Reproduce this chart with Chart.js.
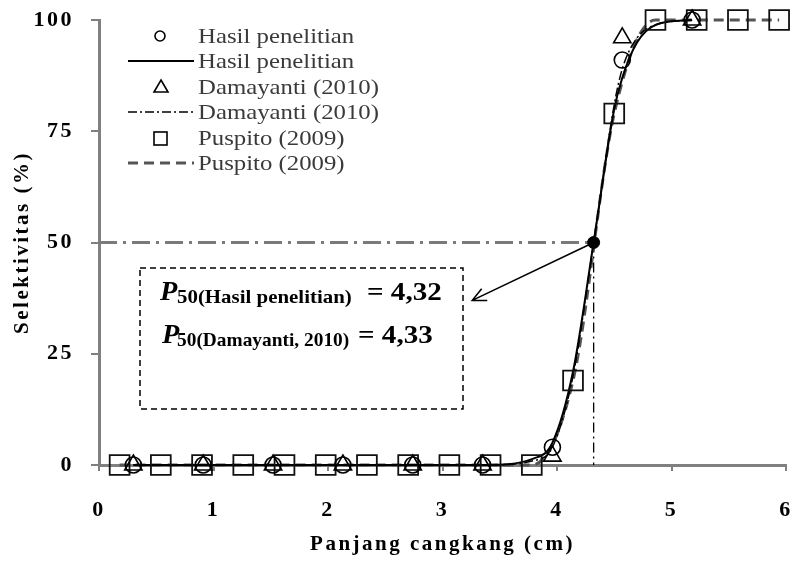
<!DOCTYPE html>
<html>
<head>
<meta charset="utf-8">
<script src="https://cdn.jsdelivr.net/npm/chart.js@4.4.1/dist/chart.umd.min.js"></script>
<style>
  html, body { margin: 0; padding: 0; background: #fff; }
  canvas { display: block; }
</style>
</head>
<body>
<canvas id="chart" width="792" height="561"></canvas>
<script>
// observed points (shell length cm, selectivity %)
const hasilX = [0.30, 0.91, 1.52, 2.13, 2.74, 3.35, 3.96, 4.57, 5.18];
const hasilY = [0, 0, 0, 0, 0, 0, 4, 91, 100];
const damaX = [0.30, 0.91, 1.52, 2.13, 2.74, 3.35, 3.96, 4.57, 5.18];
const damaY = [0, 0, 0, 0, 0, 0, 2, 96, 100];
const puspX = [0.18, 0.54, 0.90, 1.26, 1.62, 1.98, 2.34, 2.70, 3.06, 3.42, 3.78, 4.14, 4.50, 4.86, 5.22, 5.58, 5.94];
const puspY = [0, 0, 0, 0, 0, 0, 0, 0, 0, 0, 0, 19, 79, 100, 100, 100, 100];

// fitted curves
const fitX = [0.30, 3.35, 3.80, 3.96, 4.14, 4.32, 4.50, 4.57, 4.70, 4.87, 5.18];
const hasilFitY = [0, 0, 1.5, 5, 21, 50, 80, 87, 95, 99, 100];
const damaFitY = [0, 0, 1, 4, 20, 50, 81, 89, 96, 99, 100];

// P50 marker and reference lines
const p50 = 4.32;
const p50Y = 50;
const arrowEnd = [3.26, 37];

const xTicks = [0, 1, 2, 3, 4, 5, 6];
const yTicks = [0, 25, 50, 75, 100];
const legendNames = ['Hasil penelitian', 'Hasil penelitian', 'Damayanti (2010)', 'Damayanti (2010)', 'Puspito (2009)', 'Puspito (2009)'];
const boxLines = [
  { sub: '50(Hasil penelitian)', val: '= 4,32' },
  { sub: '50(Damayanti, 2010)', val: '= 4,33' }
];

const SERIF = '"Liberation Serif", "Times New Roman", serif';
const AXIS_GREY = '#808080';

function pts(xs, ys) {
  return xs.map((x, i) => ({ x: x, y: ys[i] }));
}

// stretched text like the original figure
function wideText(ctx, text, x, y, sx) {
  ctx.save();
  ctx.translate(x, y);
  ctx.scale(sx, 1);
  ctx.fillText(text, 0, 0);
  ctx.restore();
}

const base = { showLine: false, clip: false, pointHoverRadius: 0 };

const datasets = [
  { ...base, label: 'hasil-pts', data: pts(hasilX, hasilY), pointStyle: 'circle', pointRadius: 8,
    pointBorderColor: '#000', pointBackgroundColor: 'rgba(0,0,0,0)', pointBorderWidth: 1.6, order: 1 },
  { ...base, label: 'dama-pts', data: pts(damaX, damaY), pointStyle: 'triangle', pointRadius: 10,
    pointBorderColor: '#000', pointBackgroundColor: 'rgba(0,0,0,0)', pointBorderWidth: 1.6, order: 2 },
  { ...base, label: 'pusp-pts', data: pts(puspX, puspY), pointStyle: 'rect', pointRadius: 14,
    pointBorderColor: '#111', pointBackgroundColor: 'rgba(0,0,0,0)', pointBorderWidth: 1.8, order: 3 },
  { ...base, label: 'hasil-fit', data: pts(fitX, hasilFitY), showLine: true, pointRadius: 0,
    borderColor: '#000', borderWidth: 2, cubicInterpolationMode: 'monotone', order: 4 },
  { ...base, label: 'dama-fit', data: pts(fitX, damaFitY), showLine: true, pointRadius: 0,
    borderColor: '#000', borderWidth: 1.5, borderDash: [9, 3, 2, 3], cubicInterpolationMode: 'monotone', order: 5 },
  { ...base, label: 'pusp-fit', data: pts(puspX, puspY), showLine: true, pointRadius: 0,
    borderColor: '#555', borderWidth: 3, borderDash: [10, 6], cubicInterpolationMode: 'monotone', order: 6 },
  { ...base, label: 'ref-h', data: pts([0, p50], [p50Y, p50Y]), showLine: true, pointRadius: 0,
    borderColor: '#7a7a7a', borderWidth: 3, borderDash: [18, 6, 3, 6], order: 7 },
  { ...base, label: 'ref-v', data: pts([p50, p50], [p50Y, 0]), showLine: true, pointRadius: 0,
    borderColor: '#000', borderWidth: 1.3, borderDash: [10, 4, 2, 4], order: 7 },
  { ...base, label: 'p50', data: pts([p50], [p50Y]), pointStyle: 'circle', pointRadius: 6,
    pointBorderColor: '#000', pointBackgroundColor: '#000', order: 0 }
];

// dashed annotation box, arrow and custom legend
const extras = {
  id: 'extras',
  beforeDraw(chart) {
    // axis text in the source is spread out
    chart.ctx.letterSpacing = '2.5px';
  },
  beforeDatasetsDraw(chart) {
    chart.ctx.letterSpacing = '0px';
  },
  afterDatasetsDraw(chart) {
    const ctx = chart.ctx;
    const xs = chart.scales.x, ys = chart.scales.y;

    // arrow from the P50 point to the box
    const sx = xs.getPixelForValue(p50), sy = ys.getPixelForValue(p50Y);
    const ex = xs.getPixelForValue(arrowEnd[0]), ey = ys.getPixelForValue(arrowEnd[1]);
    const ang = Math.atan2(ey - sy, ex - sx);
    ctx.save();
    ctx.strokeStyle = '#000';
    ctx.lineWidth = 1.6;
    ctx.beginPath();
    ctx.moveTo(sx, sy);
    ctx.lineTo(ex, ey);
    ctx.moveTo(ex - 15 * Math.cos(ang - 0.45), ey - 15 * Math.sin(ang - 0.45));
    ctx.lineTo(ex, ey);
    ctx.lineTo(ex - 15 * Math.cos(ang + 0.45), ey - 15 * Math.sin(ang + 0.45));
    ctx.stroke();

    // box
    ctx.setLineDash([6, 4]);
    ctx.lineWidth = 1.5;
    ctx.strokeRect(140, 268, 323, 141);
    ctx.setLineDash([]);

    ctx.fillStyle = '#000';
    ctx.textBaseline = 'alphabetic';
    const rows = [{ px: 160, y: 300, vx: 367, sub: 1.1 }, { px: 162, y: 343, vx: 358, sub: 1.02 }];
    boxLines.forEach((ln, i) => {
      const r = rows[i];
      ctx.font = 'italic bold 27px ' + SERIF;
      wideText(ctx, 'P', r.px, r.y, 1.05);
      ctx.font = 'bold 19px ' + SERIF;
      wideText(ctx, ln.sub, 177, r.y + 3, r.sub);
      ctx.font = 'bold 26px ' + SERIF;
      wideText(ctx, ln.val, r.vx, r.y, 1.12);
    });
    ctx.restore();
  },
  afterDraw(chart) {
    const ctx = chart.ctx;
    const rowY = [36, 61, 87, 112, 138, 163];
    ctx.save();
    ctx.strokeStyle = '#000';
    ctx.lineWidth = 1.6;
    // markers
    ctx.beginPath();
    ctx.arc(160, rowY[0], 5, 0, Math.PI * 2);
    ctx.stroke();
    ctx.beginPath();
    ctx.moveTo(161, rowY[2] - 7);
    ctx.lineTo(168, rowY[2] + 5);
    ctx.lineTo(154, rowY[2] + 5);
    ctx.closePath();
    ctx.stroke();
    ctx.strokeRect(154, rowY[4] - 6, 13, 13);
    // line samples
    const sample = (y, w, dash, col) => {
      ctx.save();
      ctx.strokeStyle = col;
      ctx.lineWidth = w;
      ctx.setLineDash(dash);
      ctx.beginPath();
      ctx.moveTo(128, y);
      ctx.lineTo(194, y);
      ctx.stroke();
      ctx.restore();
    };
    sample(rowY[1], 2, [], '#000');
    sample(rowY[3], 1.5, [9, 3, 2, 3], '#000');
    sample(rowY[5], 3, [10, 6], '#555');
    // names
    ctx.fillStyle = '#3a3a3a';
    ctx.font = '21px ' + SERIF;
    ctx.textBaseline = 'middle';
    legendNames.forEach((t, i) => wideText(ctx, t, 198, rowY[i] + 1, 1.18));
    ctx.restore();
  }
};

new Chart(document.getElementById('chart'), {
  type: 'scatter',
  data: { datasets: datasets },
  options: {
    responsive: false,
    animation: false,
    devicePixelRatio: 1,
    layout: { autoPadding: false, padding: { top: 20, right: 6, bottom: 0, left: 0 } },
    plugins: { legend: { display: false }, tooltip: { enabled: false } },
    scales: {
      x: {
        type: 'linear',
        min: 0, max: 6,
        afterBuildTicks: s => { s.ticks = xTicks.map(v => ({ value: v })); },
        afterFit: s => { s.height = 96; s.paddingLeft = 0; s.paddingRight = 0; },
        grid: { drawOnChartArea: false, drawTicks: true, tickLength: 6, color: AXIS_GREY, lineWidth: 2 },
        border: { display: true, color: AXIS_GREY, width: 3 },
        ticks: { color: '#000', padding: 26, font: { family: SERIF, size: 22, weight: 'bold' } },
        title: { display: true, text: 'Panjang cangkang (cm)', color: '#000',
          padding: { top: 0, bottom: 4 }, font: { family: SERIF, size: 21, weight: 'bold' } }
      },
      y: {
        type: 'linear',
        min: 0, max: 100,
        afterBuildTicks: s => { s.ticks = yTicks.map(v => ({ value: v })); },
        afterFit: s => { s.width = 99; s.paddingTop = 0; s.paddingBottom = 0; },
        grid: { drawOnChartArea: false, drawTicks: true, tickLength: 8, color: AXIS_GREY, lineWidth: 2 },
        border: { display: true, color: AXIS_GREY, width: 3 },
        ticks: { color: '#000', padding: 17, font: { family: SERIF, size: 22, weight: 'bold' } },
        title: { display: true, text: 'Selektivitas (%)', color: '#000',
          padding: { top: 10, bottom: 0 }, font: { family: SERIF, size: 21, weight: 'bold' } }
      }
    }
  },
  plugins: [extras]
});
</script>
</body>
</html>
